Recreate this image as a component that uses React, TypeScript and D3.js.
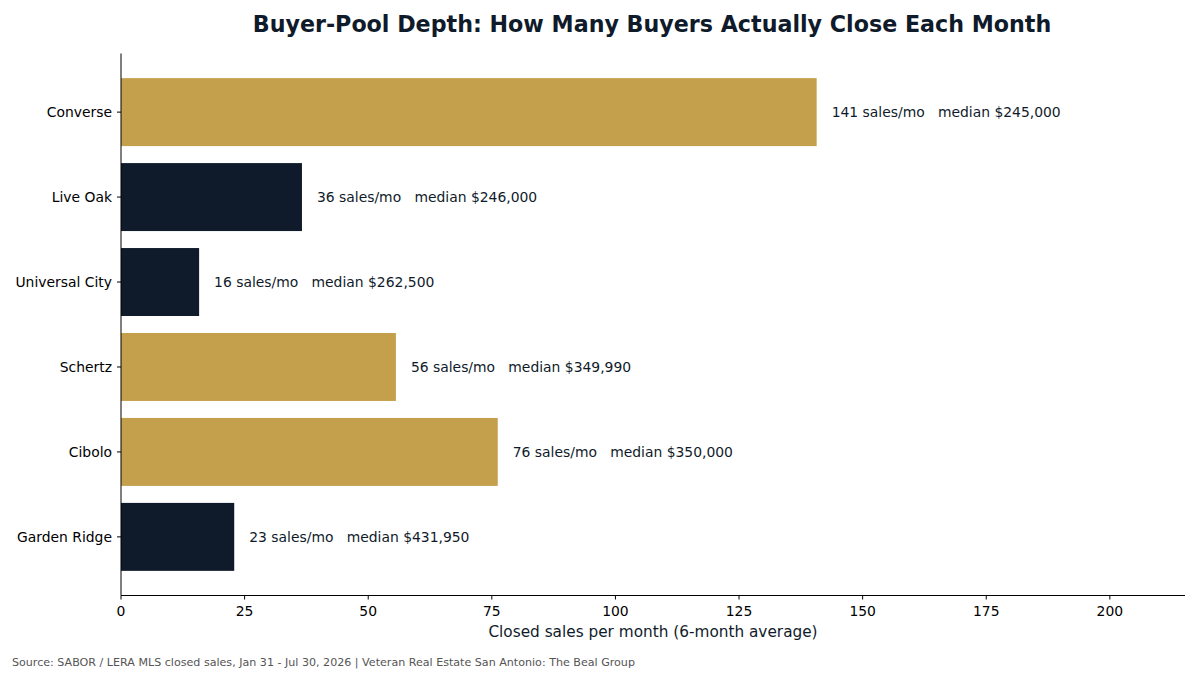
import React from "react";
import * as d3 from "d3";

const categories = ["Converse", "Live Oak", "Universal City", "Schertz", "Cibolo", "Garden Ridge"];
const salesPerMonth = [140.7, 36.6, 15.8, 55.6, 76.2, 22.9];
const salesLabels = ["141", "36", "16", "56", "76", "23"];
const medianLabels = ["$245,000", "$246,000", "$262,500", "$349,990", "$350,000", "$431,950"];
const highlight = [true, false, false, true, true, false];
const xTicks = [0, 25, 50, 75, 100, 125, 150, 175, 200];

const GOLD = "#C4A04D";
const NAVY = "#0F1B2A";
const FONT = "DejaVu Sans, sans-serif";

export default function App() {
  const W = 1200, H = 675;
  const left = 121, right = 1185, top = 53.5, bottom = 595.5;
  const x = d3.scaleLinear().domain([0, 215.2]).range([left, right]);
  const n = categories.length;
  // matplotlib-like: bars of height 0.8 centered at integer positions, 5% margins
  const y = d3.scaleLinear().domain([-0.4 - 0.29, n - 1 + 0.4 + 0.29]).range([top, bottom]);
  const barH = y(0.8) - y(0);

  return (
    <svg width={W} height={H} style={{ display: "block", position: "absolute", left: 0, top: 0 }} fontFamily={FONT}>
      <rect width={W} height={H} fill="#fff" />
      <text x={652} y={32} textAnchor="middle" fontSize={22.2} fontWeight="bold" fill={NAVY}>
        Buyer-Pool Depth: How Many Buyers Actually Close Each Month
      </text>
      {categories.map((c, i) => {
        const cy = y(i);
        const v = salesPerMonth[i];
        return (
          <g key={c}>
            <rect x={x(0)} y={cy - barH / 2} width={x(v) - x(0)} height={barH} fill={highlight[i] ? GOLD : NAVY} />
            <line x1={left - 4} x2={left} y1={cy} y2={cy} stroke="#000" strokeWidth={1} />
            <text x={left - 9} y={cy} dy="0.35em" textAnchor="end" fontSize={13.9} fill="#000">{c}</text>
            <text x={x(v) + 15} y={cy} dy="0.35em" fontSize={13.9} fill={NAVY} style={{ whiteSpace: "pre" }}>
              {`${salesLabels[i]} sales/mo   median ${medianLabels[i]}`}
            </text>
          </g>
        );
      })}
      <line x1={left} x2={left} y1={top} y2={bottom} stroke="#000" strokeWidth={1} />
      <line x1={left} x2={right} y1={bottom} y2={bottom} stroke="#000" strokeWidth={1} />
      {xTicks.map((t) => (
        <g key={t}>
          <line x1={x(t)} x2={x(t)} y1={bottom} y2={bottom + 4} stroke="#000" strokeWidth={1} />
          <text x={x(t)} y={bottom + 15.5} dy="0.35em" textAnchor="middle" fontSize={13.9} fill="#000">{t}</text>
        </g>
      ))}
      <text x={(left + right) / 2} y={632} dy="0.35em" textAnchor="middle" fontSize={15.3} fill={NAVY}>
        Closed sales per month (6-month average)
      </text>
      <text x={12} y={662} dy="0.35em" fontSize={11.1} fill="#555">
        Source: SABOR / LERA MLS closed sales, Jan 31 - Jul 30, 2026 | Veteran Real Estate San Antonio: The Beal Group
      </text>
    </svg>
  );
}
